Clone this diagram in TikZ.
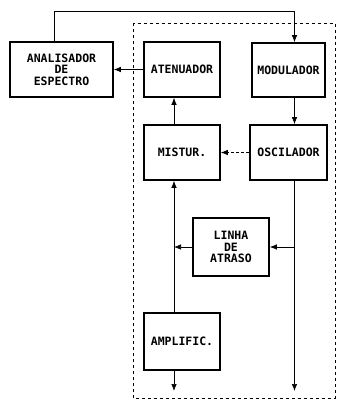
\documentclass[tikz,border=0pt]{standalone}
\usepackage{fontspec}
\setmonofont{DejaVu Sans Mono}
\usetikzlibrary{arrows.meta, positioning}
\tikzset{
  block/.style={
    draw,
    line width=1.7pt,
    align=center,
    minimum width=76pt,
    minimum height=55pt,
    inner sep=2pt,
    font=\ttfamily\bfseries\fontsize{11.5}{11.5}\selectfont
  },
  arrow/.style={-{Latex[length=7pt,width=5.5pt]}, line width=0.7pt},
  frame/.style={dashed, dash pattern=on 3pt off 3pt, line width=0.8pt}
}

\begin{document}
\begin{tikzpicture}[x=1pt,y=-1pt]
    \useasboundingbox (0,0) rectangle (337,400);
    \draw[frame] (133,23) rectangle (335,398);

    \node[block, minimum width=103pt] (anal) at (61.5,69.5) {ANALISADOR\\DE\\ESPECTRO};
    \node[block] (aten) at (182,69.5) {ATENUADOR};
    \node[block, minimum width=73pt, minimum height=54pt] (modul) at (288.5,70) {MODULADOR};
    \node[block] (mistur) at (182,152.5) {MISTUR.};
    \node[block, minimum width=77pt] (oscil) at (288.5,152.5) {OSCILADOR};
    \node[block, minimum height=58pt] (linha) at (231,247) {LINHA\\DE\\ATRASO};
    \node[block, minimum height=57pt] (ampl) at (182,341.5) {AMPLIFIC.};

    \coordinate (oend) at (294.5,391);
    \coordinate (aend) at (174,391);

    \draw[arrow] ([xshift=-7.5pt]anal.north) -- ++(0,-30) -| ([xshift=6pt]modul.north);
    \draw[arrow] (aten.west) -- (anal.east);
    \draw[arrow] ([xshift=6pt]modul.south) -- ([xshift=6pt]oscil.north);
    \draw[arrow, dashed, dash pattern=on 3pt off 2pt] (oscil.west) -- (mistur.east);
    \draw[arrow] ([xshift=-8pt]mistur.north) -- ([xshift=-8pt]aten.south);
    \draw[arrow] ([xshift=6pt]oscil.south) -- (oend);
    \draw[arrow] (linha.east -| oend) -- (linha.east);
    \draw[arrow] (linha.west) -- (linha.west -| aend);
    \draw[arrow] ([xshift=-8pt]ampl.north) -- ([xshift=-8pt]mistur.south);
    \draw[arrow] ([xshift=-8pt]ampl.south) -- (aend);
  \end{tikzpicture}
\end{document}
